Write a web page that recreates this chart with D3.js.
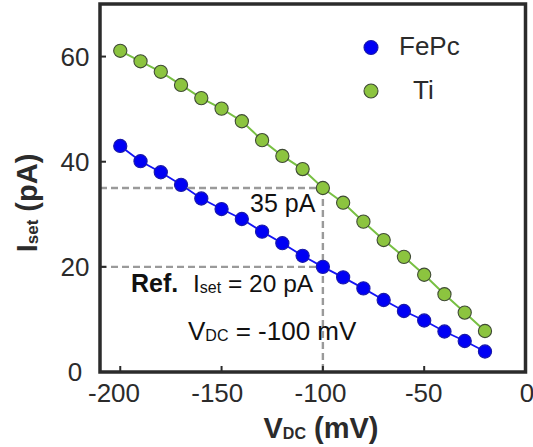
<!DOCTYPE html>
<html><head><meta charset="utf-8">
<script src="https://cdn.jsdelivr.net/npm/d3@7/dist/d3.min.js"></script>
<style>
html,body{margin:0;padding:0;background:#fff;}
svg{display:block;font-family:"Liberation Sans",Arial,Helvetica,sans-serif;}
</style>
</head><body>
<svg id="chart" width="533" height="447"></svg>
<script>
// Bias voltage (mV) and set-point current (pA) for each tip
const biasMV = [-200,-190,-180,-170,-160,-150,-140,-130,-120,-110,-100,-90,-80,-70,-60,-50,-40,-30,-20];
const fepcPA = [43.0,40.1,38.0,35.6,33.0,31.0,29.1,26.7,24.5,22.1,20.0,18.0,15.9,13.7,11.6,9.8,7.7,5.9,3.9];
const tiPA   = [61.1,59.1,57.1,54.6,52.1,50.1,47.7,44.1,41.1,38.6,35.0,32.2,28.6,25.1,21.9,18.5,14.8,11.3,7.8];
const xTicks = [-200,-150,-100,-50,0];
const yTicks = [0,20,40,60];
// Reference set point
const refBias = -100, refFePc = 20, refTi = 35;

const svg = d3.select("#chart");
const plot = {left: 100, right: 525.5, top: 4, bottom: 372};
const x = d3.scaleLinear().domain([-210, 0]).range([plot.left, plot.right]);
const y = d3.scaleLinear().domain([0, 70]).range([plot.bottom, plot.top]);
// tick labels sit slightly spread relative to the tick marks
const xLab = d3.scaleLinear().domain([-200, 0]).range([114, 527]);

const ink = "#2b2b2b";

// plot background
svg.append("rect").attr("x", plot.left).attr("y", plot.top)
  .attr("width", plot.right - plot.left).attr("height", plot.bottom - plot.top).attr("fill", "#fff");

// guide lines for the reference set point
function guide(x1, y1, x2, y2) {
  svg.append("line").attr("x1", x1).attr("y1", y1).attr("x2", x2).attr("y2", y2)
    .attr("stroke", "#9a9a9a").attr("stroke-width", 2.4).attr("stroke-dasharray", "7,4");
}
guide(plot.left, y(refTi), x(refBias), y(refTi));
guide(plot.left, y(refFePc), x(refBias), y(refFePc));
guide(x(refBias), y(refTi), x(refBias), plot.bottom);

// series
const series = [
  {name: "FePc", vals: fepcPA, line: "#1414f5", lw: 1.8, fill: "#0000f5", stroke: "#1a1aa8"},
  {name: "Ti", vals: tiPA, line: "#78c043", lw: 2, fill: "#8cc43f", stroke: "#3f4a35"}
];
const line = d3.line().x(d => x(d[0])).y(d => y(d[1]));
series.forEach(s => {
  const pts = biasMV.map((v, i) => [v, s.vals[i]]);
  svg.append("path").datum(pts).attr("d", line)
    .attr("fill", "none").attr("stroke", s.line).attr("stroke-width", s.lw);
  svg.append("g").selectAll("circle").data(pts).join("circle")
    .attr("cx", d => x(d[0])).attr("cy", d => y(d[1])).attr("r", 6.6)
    .attr("fill", s.fill).attr("stroke", s.stroke).attr("stroke-width", 1.1);
});

// frame
svg.append("rect").attr("x", plot.left).attr("y", plot.top)
  .attr("width", plot.right - plot.left).attr("height", plot.bottom - plot.top)
  .attr("fill", "none").attr("stroke", ink).attr("stroke-width", 3.5);

// inward ticks
svg.append("g").selectAll("line").data(xTicks.filter(t => t > -210 && t < 0)).join("line")
  .attr("x1", d => x(d)).attr("x2", d => x(d)).attr("y1", plot.bottom).attr("y2", plot.bottom - 6)
  .attr("stroke", ink).attr("stroke-width", 2);
svg.append("g").selectAll("line").data(yTicks.filter(t => t > 0)).join("line")
  .attr("x1", plot.left).attr("x2", plot.left + 6).attr("y1", d => y(d)).attr("y2", d => y(d))
  .attr("stroke", ink).attr("stroke-width", 2);

// tick labels
svg.append("g").selectAll("text").data(xTicks).join("text")
  .attr("x", d => xLab(d)).attr("y", 402).attr("text-anchor", "middle")
  .attr("font-size", 26).attr("fill", ink).text(d => d);
svg.append("g").selectAll("text").data(yTicks).join("text")
  .attr("x", 75).attr("y", d => y(d)).attr("dy", "0.36em").attr("text-anchor", "middle")
  .attr("font-size", 26).attr("fill", ink).text(d => d);

// axis titles
const xt = svg.append("text").attr("x", 321).attr("y", 438).attr("text-anchor", "middle")
  .attr("font-size", 29).attr("font-weight", "bold").attr("fill", ink);
xt.append("tspan").text("V");
xt.append("tspan").attr("font-size", 16).attr("dy", 1).text("DC");
xt.append("tspan").attr("dy", -1).text(" (mV)");

const yt = svg.append("text").attr("transform", "translate(37,203) rotate(-90)")
  .attr("text-anchor", "middle").attr("font-size", 29).attr("font-weight", "bold").attr("fill", ink);
yt.append("tspan").text("I");
yt.append("tspan").attr("font-size", 17).attr("dy", 1).text("set");
yt.append("tspan").attr("dy", -1).text(" (pA)");

// legend
const legend = [{label: "FePc", cy: 47.5, tx: 399, ty: 55, s: series[0]},
                {label: "Ti", cy: 91, tx: 413, ty: 99, s: series[1]}];
legend.forEach(l => {
  svg.append("circle").attr("cx", 371).attr("cy", l.cy).attr("r", 7)
    .attr("fill", l.s.fill).attr("stroke", l.s.stroke).attr("stroke-width", 1.1);
  svg.append("text").attr("x", l.tx).attr("y", l.ty).attr("font-size", 26)
    .attr("fill", ink).text(l.label);
});

// annotations
svg.append("text").attr("x", 250).attr("y", 212).attr("font-size", 25).attr("fill", "#111")
  .text(refTi + " pA");
svg.append("text").attr("x", 131).attr("y", 292).attr("font-size", 25)
  .attr("font-weight", "bold").attr("fill", "#111").text("Ref.");
const a1 = svg.append("text").attr("x", 193).attr("y", 292).attr("font-size", 24.5).attr("fill", "#111");
a1.append("tspan").text("I");
a1.append("tspan").attr("font-size", 16).attr("dy", 1).text("set");
a1.append("tspan").attr("dy", -1).text(" = " + refFePc + " pA");
const a2 = svg.append("text").attr("x", 188).attr("y", 340).attr("font-size", 26).attr("fill", "#111");
a2.append("tspan").text("V");
a2.append("tspan").attr("font-size", 16).attr("dy", 1).text("DC");
a2.append("tspan").attr("dy", -1).text(" = " + refBias + " mV");
</script>
</body></html>
